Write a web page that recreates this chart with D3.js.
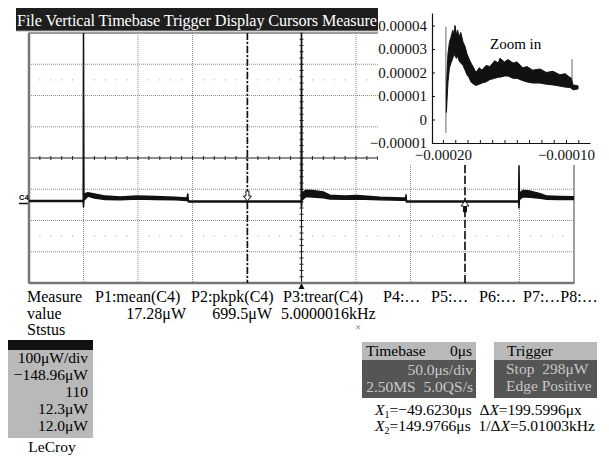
<!DOCTYPE html>
<html>
<head>
<meta charset="utf-8">
<script src="https://cdn.jsdelivr.net/npm/d3@7"></script>
<style>
body{margin:0;background:#fff}
svg{display:block;font-family:"Liberation Serif","Times New Roman",serif}
</style>
</head>
<body>
<svg width="609" height="456"></svg>
<script>
// menu and readout texts
let menuItems = ["File", "Vertical", "Timebase", "Trigger", "Display", "Cursors", "Measure"]
let measureNames = ["Measure", "P1:mean(C4)", "P2:pkpk(C4)", "P3:trear(C4)", "P4:…", "P5:…", "P6:…", "P7:…P8:…"]
let measureValues = ["value", "17.28μW", "699.5μW", "5.0000016kHz"]
let statusLines = ["100μW/div", "−148.96μW", "110", "12.3μW", "12.0μW"]
let timebaseLines = ["50.0μs/div", "2.50MS  5.0QS/s"]
let triggerLines = ["Stop  298μW", "Edge Positive"]

// scope settings (μs, μW)
let timePerDiv = 50, powerPerDiv = 100, offset = -148.96
let cursorX1 = -49.623, cursorX2 = 149.9766

// main trace C4 : time (μs), upper and lower edge of the noisy trace (μW)
let mainTime = [-250, -200.3, -200, -199.6, -196, -190, -180, -166, -151, -134, -116, -105, -104.3, -103.8,
  -0.3, 0, 0.4, 4, 10, 20, 26, 40, 51, 72, 93, 95.5, 95.9, 96.3,
  199.2, 199.5, 199.9, 203, 210, 219, 225, 237, 250]
let mainHi = [13, 13, 549, 33, 38, 34, 27, 24, 27, 26, 23, 21, 34, 11,
  11, 549, 36, 46, 45, 40, 30, 27, 29, 23, 21, 21, 31, 11,
  11, 123, 36, 45, 43, 35, 27, 26, 25]
let mainLo = [10, 10, -8, 14, 27, 21, 16, 15, 18, 16, 15, 13, 12, 8,
  8, -8, 14, 26, 24, 22, 18, 17, 18, 15, 14, 14, 12, 8,
  8, -11, 16, 25, 23, 20, 17, 16, 16]

// zoom-in inset : time (μs), upper / lower edge (μW)
let zoomTime = [-197.2, -196.5, -195.9, -194.7, -193.5, -192, -191, -190.2, -189, -188, -187, -185.5,
  -183.7, -182, -180.5, -179, -177.2, -175, -173.2, -170.5, -168.3, -165, -161.8, -158, -155,
  -153.7, -150, -147.2, -143, -139.8, -135, -131.7, -127, -121.1, -116, -110.6, -105, -100.8,
  -97, -95.9, -94.3, -90.2]
let zoomHi = [12, 22, 28, 33, 35, 38, 36, 40, 36, 38, 35, 37,
  33, 31, 28, 26, 24, 22, 20, 22, 21, 23, 22.5, 25, 24,
  26, 24.5, 25.5, 24, 24.5, 22, 22.5, 21, 21.5, 20, 20.5, 19, 19.5,
  18, 17.7, 14.7, 14.3]
let zoomLo = [3, 10, 16, 22, 24, 26, 28, 27, 26, 27, 25, 24,
  23, 21, 19, 18, 16, 15, 14.5, 15, 15.5, 16, 17, 17.5, 18,
  18, 18.5, 18.5, 17.5, 17.5, 16.5, 16, 15.5, 15.5, 15, 14.7, 14.2, 13.8,
  13.6, 13.4, 12.6, 13]
let zoomSpikes = [{t: -197.6, lo: -5.7, hi: 39.4}, {t: -95.1, lo: 14.7, hi: 25.7}]
let zoomYTicks = [-10, 0, 10, 20, 30, 40]
let zoomXLabels = [-200, -100]

let svg = d3.select("svg")

// ---------- graticule ----------
let gLeft = 29, gRight = 574, gTop = 33, gBottom = 283
let center = -offset
let x = d3.scaleLinear().domain([-5 * timePerDiv, 5 * timePerDiv]).range([gLeft, gRight])
let y = d3.scaleLinear().domain([center - 4 * powerPerDiv, center + 4 * powerPerDiv]).range([gBottom, gTop])

let grid = svg.append("g")
let divT = d3.range(-4, 5).map(d => d * timePerDiv)
let divP = d3.range(-3, 4).map(d => center + d * powerPerDiv)

grid.selectAll(".vl").data(divT.filter(d => d != 0)).enter().append("line")
  .attr("x1", d => x(d)).attr("x2", d => x(d)).attr("y1", gTop).attr("y2", gBottom)
  .attr("stroke", "#8a8a8a").attr("stroke-dasharray", "1,1")
grid.selectAll(".hl").data(divP.filter(d => d != center)).enter().append("line")
  .attr("x1", gLeft).attr("x2", gRight).attr("y1", d => y(d)).attr("y2", d => y(d))
  .attr("stroke", "#8a8a8a").attr("stroke-dasharray", "1,1")

// dotted rows between divisions
let dotT = d3.range(-250, 250, 10).filter(d => d % 50 != 0)
;[center + 2.5 * powerPerDiv, center - 2.5 * powerPerDiv].forEach(p => {
  grid.selectAll(null).data(dotT).enter().append("rect")
    .attr("x", d => x(d) - 0.5).attr("y", y(p) - 0.5).attr("width", 1).attr("height", 1)
    .attr("fill", "#999")
})

// centre axes with minor ticks
grid.append("line").attr("x1", gLeft).attr("x2", gRight).attr("y1", y(center)).attr("y2", y(center))
  .attr("stroke", "#222").attr("stroke-width", 1.2)
grid.append("line").attr("x1", x(0)).attr("x2", x(0)).attr("y1", gTop).attr("y2", gBottom)
  .attr("stroke", "#222").attr("stroke-width", 1.2)
grid.selectAll(".tx").data(d3.range(-250, 251, 10)).enter().append("line")
  .attr("x1", d => x(d)).attr("x2", d => x(d)).attr("y1", y(center) - 2).attr("y2", y(center) + 2)
  .attr("stroke", "#222")
grid.selectAll(".ty").data(d3.range(-400, 401, 20).map(d => center + d)).enter().append("line")
  .attr("x1", x(0) - 2).attr("x2", x(0) + 2).attr("y1", d => y(d)).attr("y2", d => y(d))
  .attr("stroke", "#222")

// frame
grid.append("rect").attr("x", gLeft).attr("y", gTop).attr("width", gRight - gLeft).attr("height", gBottom - gTop)
  .attr("fill", "none").attr("stroke", "#808080").attr("stroke-width", 1.5)
grid.append("line").attr("x1", gLeft).attr("x2", gLeft).attr("y1", gTop).attr("y2", gBottom)
  .attr("stroke", "#777").attr("stroke-width", 2.5)
grid.append("line").attr("x1", gLeft).attr("x2", gRight).attr("y1", gBottom).attr("y2", gBottom)
  .attr("stroke", "#777").attr("stroke-width", 2.5)
svg.append("path").attr("d", `M${x(0) - 3},${gBottom + 6}L${x(0) + 3},${gBottom + 6}L${x(0)},${gBottom}Z`).attr("fill", "#111")

// cursors
svg.append("line").attr("x1", x(cursorX1)).attr("x2", x(cursorX1)).attr("y1", gTop).attr("y2", gBottom)
  .attr("stroke", "#111").attr("stroke-width", 1.6).attr("stroke-dasharray", "7,2,2,2")
svg.append("line").attr("x1", x(cursorX2)).attr("x2", x(cursorX2)).attr("y1", gTop).attr("y2", gBottom)
  .attr("stroke", "#111").attr("stroke-width", 1.6).attr("stroke-dasharray", "8,3")

// ---------- main trace ----------
svg.append("clipPath").attr("id", "scr").append("rect")
  .attr("x", gLeft).attr("y", gTop).attr("width", gRight - gLeft).attr("height", gBottom - gTop)
let mainData = mainTime.map((t, i) => ({t: t, hi: mainHi[i], lo: mainLo[i]}))
let band = d3.area().x(d => x(d.t)).y0(d => y(d.lo)).y1(d => y(d.hi))
svg.append("path").datum(mainData).attr("clip-path", "url(#scr)")
  .attr("d", band).attr("fill", "#111").attr("stroke", "#111").attr("stroke-width", 1.5)
  .attr("stroke-linejoin", "round")

// cursor markers
let m1x = x(cursorX1), m1y = 193
svg.append("path")
  .attr("d", `M${m1x - 1.5},${m1y - 2}V${m1y + 3}H${m1x - 4}L${m1x},${m1y + 8}L${m1x + 4},${m1y + 3}H${m1x + 1.5}V${m1y - 2}Z`)
  .attr("fill", "#fff").attr("stroke", "#111").attr("stroke-width", 1)
let m2x = x(cursorX2), m2y = 201
svg.append("path")
  .attr("d", `M${m2x},${m2y}L${m2x + 4},${m2y + 5}H${m2x + 1.5}V${m2y + 11}H${m2x - 1.5}V${m2y + 5}H${m2x - 4}Z`)
  .attr("fill", "#fff").attr("stroke", "#111").attr("stroke-width", 1)
svg.append("rect").attr("x", m2x - 1.5).attr("y", m2y + 5).attr("width", 3).attr("height", 6).attr("fill", "#111")

// channel label
svg.append("text").attr("x", 19).attr("y", 200).attr("font-size", 7.5).attr("font-weight", "bold")
  .attr("font-family", "Liberation Sans").text("C4")
svg.append("line").attr("x1", 19).attr("x2", 28).attr("y1", 203.5).attr("y2", 203.5).attr("stroke", "#111").attr("stroke-width", 1.5)

// ---------- zoom inset ----------
svg.append("rect").attr("x", 378).attr("y", 0).attr("width", 231).attr("height", 165).attr("fill", "#fff")
let zx = d3.scaleLinear().domain([-208.9, -80.5]).range([432, 590])
let zy = d3.scaleLinear().domain([-10, 45.3]).range([143, 13])
let inset = svg.append("g")

let zxAxis = d3.axisBottom(zx).tickValues(d3.range(-200, -80, 10)).tickSizeInner(-3).tickSizeOuter(0)
  .tickFormat(d => zoomXLabels.includes(d) ? d3.format(".5f")(d * 1e-6) : "")
let zxg = inset.append("g").attr("transform", `translate(0,${zy(-10)})`).call(zxAxis)
let zyAxis = d3.axisLeft(zy).tickValues(zoomYTicks).tickSizeInner(-3).tickSizeOuter(0).tickPadding(5)
  .tickFormat(d => d == 0 ? "0" : d3.format(".5f")(d * 1e-6))
let zyg = inset.append("g").attr("transform", `translate(${zx.range()[0]},0)`).call(zyAxis)
inset.selectAll(".domain").attr("stroke", "#111").attr("stroke-width", 1.2)
inset.selectAll(".tick line").attr("stroke", "#111")
inset.selectAll(".tick text").attr("font-family", "Liberation Serif").attr("font-size", 15).attr("fill", "#111")
zxg.selectAll(".tick text").attr("dy", "0.9em")

let zoomData = zoomTime.map((t, i) => ({t: t, hi: zoomHi[i], lo: zoomLo[i]}))
let zband = d3.area().x(d => zx(d.t)).y0(d => zy(d.lo)).y1(d => zy(d.hi))
inset.selectAll(".spk").data(zoomSpikes).enter().append("line")
  .attr("x1", d => zx(d.t)).attr("x2", d => zx(d.t)).attr("y1", d => zy(d.lo)).attr("y2", d => zy(d.hi))
  .attr("stroke", "#666").attr("stroke-width", 1)
inset.append("path").datum(zoomData).attr("d", zband)
  .attr("fill", "#111").attr("stroke", "#111").attr("stroke-width", 1).attr("stroke-linejoin", "round")
inset.append("text").attr("x", 490).attr("y", 49).attr("font-size", 15).text("Zoom in")

// ---------- menu bar ----------
svg.append("rect").attr("x", 16).attr("y", 8).attr("width", 362).attr("height", 23).attr("fill", "#1e1e1e")
svg.append("line").attr("x1", 16).attr("x2", 378).attr("y1", 31).attr("y2", 31).attr("stroke", "#aaa")
svg.append("text").attr("x", 17).attr("y", 25.5).attr("font-size", 16.2)
  .attr("textLength", 360).attr("lengthAdjust", "spacing")
  .attr("fill", "#fff").text(menuItems.join(" "))

// ---------- measurement rows ----------
let nameX = [27, 95, 191, 283, 383, 431, 479, 523]
svg.selectAll(".mn").data(measureNames).enter().append("text")
  .attr("x", (d, i) => nameX[i]).attr("y", 302).attr("font-size", 16).text(d => d)
let valX = [27, 186, 272, 281], valAnchor = ["start", "end", "end", "start"]
svg.selectAll(".mv").data(measureValues).enter().append("text")
  .attr("x", (d, i) => valX[i]).attr("y", 318.5).attr("font-size", 16)
  .attr("text-anchor", (d, i) => valAnchor[i]).text(d => d)
svg.append("text").attr("x", 27).attr("y", 335).attr("font-size", 16).text("Ststus")
svg.append("text").attr("x", 358).attr("y", 331).attr("font-size", 11).attr("fill", "#777")
  .attr("text-anchor", "middle").text("×")

// ---------- status box ----------
svg.append("rect").attr("x", 8).attr("y", 340).attr("width", 85).attr("height", 10).attr("fill", "#111")
svg.append("rect").attr("x", 8).attr("y", 350).attr("width", 85).attr("height", 88).attr("fill", "#b9b9b9")
svg.selectAll(".st").data(statusLines).enter().append("text")
  .attr("x", 88).attr("y", (d, i) => 363 + i * 17).attr("font-size", 15.5)
  .attr("text-anchor", "end").text(d => d)
svg.append("text").attr("x", 52).attr("y", 452).attr("font-size", 15.5).attr("text-anchor", "middle").text("LeCroy")

// ---------- timebase / trigger boxes ----------
function infoBox(x0, w, title, titleX, rightText) {
  svg.append("rect").attr("x", x0).attr("y", 342).attr("width", w).attr("height", 18).attr("fill", "#b9b9b9")
  svg.append("rect").attr("x", x0).attr("y", 360).attr("width", w).attr("height", 38).attr("fill", "#555")
  svg.append("text").attr("x", titleX).attr("y", 356).attr("font-size", 15.5).text(title)
  if (rightText) svg.append("text").attr("x", x0 + w - 4).attr("y", 356).attr("font-size", 15.5)
    .attr("text-anchor", "end").text(rightText)
}
infoBox(362, 114, "Timebase", 366, "0μs")
svg.selectAll(".tb").data(timebaseLines).enter().append("text")
  .attr("x", 473).attr("y", (d, i) => 375 + i * 17).attr("font-size", 15.5).attr("fill", "#c8c8c8")
  .attr("text-anchor", "end").style("white-space", "pre").text(d => d)
infoBox(494, 103, "Trigger", 507, null)
svg.selectAll(".tg").data(triggerLines).enter().append("text")
  .attr("x", 506).attr("y", (d, i) => 374 + i * 17).attr("font-size", 15.5).attr("fill", "#c8c8c8")
  .style("white-space", "pre").text(d => d)

// ---------- cursor readout ----------
function readout(yy, sub, v1, pre, v2) {
  let t = svg.append("text").attr("x", 375).attr("y", yy).attr("font-size", 15.5).style("white-space", "pre")
  t.append("tspan").attr("font-style", "italic").text("X")
  t.append("tspan").attr("font-size", 10).attr("dy", 3).text(sub)
  t.append("tspan").attr("dy", -3).text("=" + v1 + "  " + pre + "Δ")
  t.append("tspan").attr("font-style", "italic").text("X")
  t.append("tspan").text("=" + v2)
}
readout(415, "1", d3.format(".4f")(cursorX1) + "μs", "", "199.5996μx")
readout(431, "2", d3.format(".4f")(cursorX2) + "μs", "1/", "5.01003kHz")
</script>
</body>
</html>
